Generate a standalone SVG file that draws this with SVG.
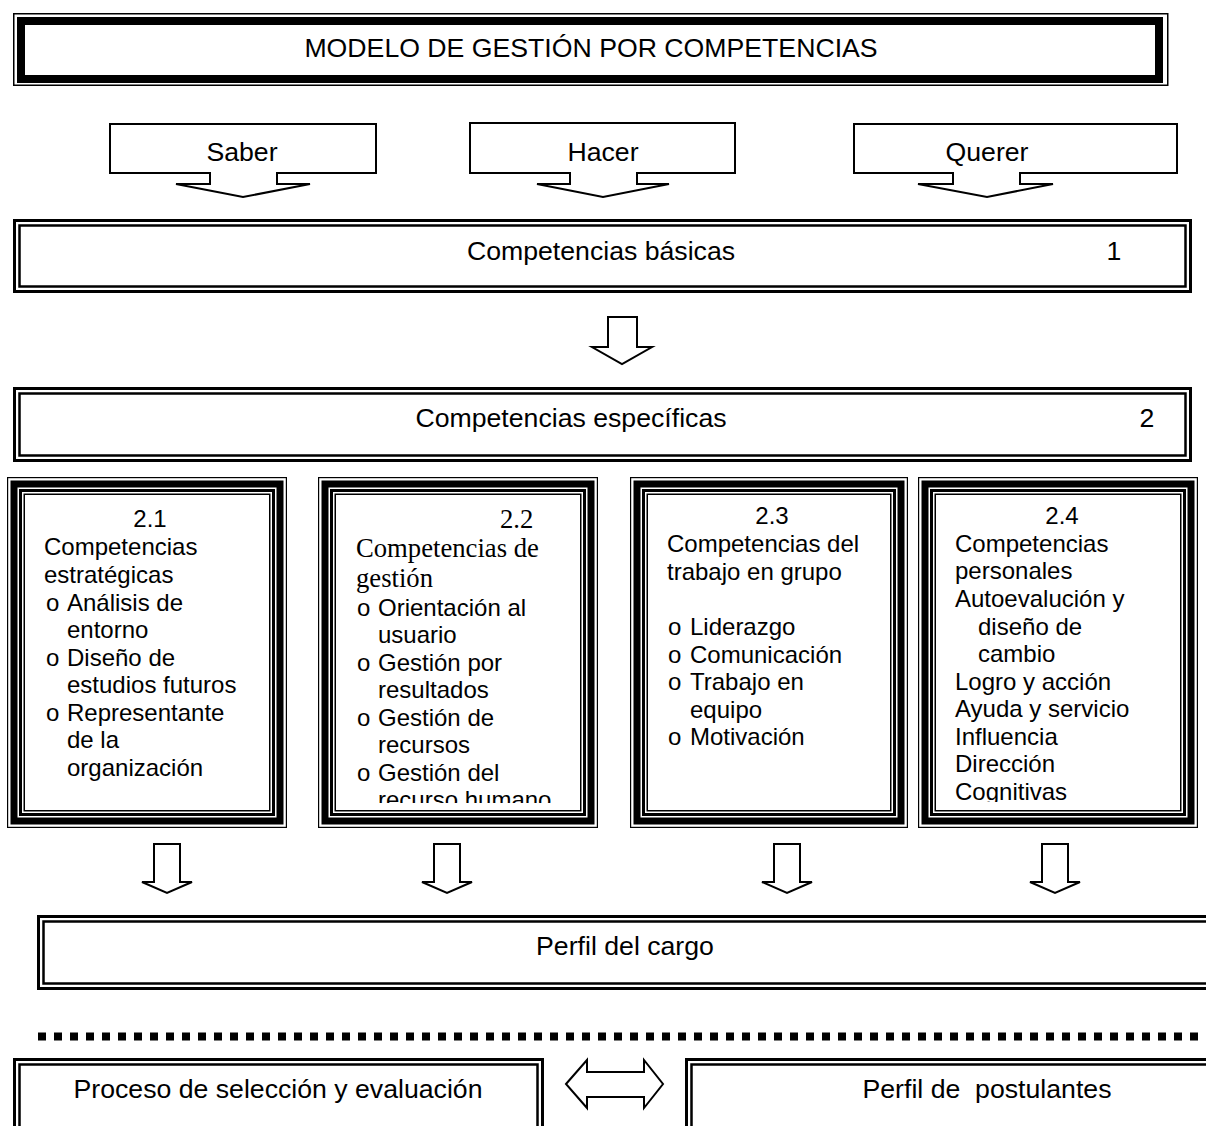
<svg xmlns="http://www.w3.org/2000/svg" width="1206" height="1126" viewBox="0 0 1206 1126">
<style>
.t{font-family:"Liberation Sans",Arial,sans-serif;font-size:26.67px;fill:#000}
.s{font-family:"Liberation Sans",Arial,sans-serif;font-size:24px;fill:#000}
.r{font-family:"Liberation Serif","Times New Roman",serif;font-size:26.67px;fill:#000}
.c{text-anchor:middle}
.f{fill:none;stroke:#000}
.sh{fill:#fff;stroke:#000;stroke-width:2;stroke-linejoin:miter}
</style>
<defs>
<clipPath id="clip22"><rect x="336" y="495" width="244" height="308"/></clipPath>
<clipPath id="clip24"><rect x="936" y="495" width="244" height="307"/></clipPath>
</defs>
<rect width="1206" height="1126" fill="#fff"/>

<g id="title">
<rect class="f" x="13.75" y="13.75" width="1154" height="71.5" stroke-width="1.5"/>
<rect class="f" x="21" y="21" width="1138" height="58" stroke-width="8"/>
<text class="t c" x="591" y="57">MODELO DE GESTIÓN POR COMPETENCIAS</text>
</g>

<g id="saber">
<path class="sh" d="M110,124 H376 V173 H277 V184 H310 L243,197 L176,184 H210 V173 H110 Z"/>
<text class="t c" x="242" y="161">Saber</text>
</g>
<g id="hacer">
<path class="sh" d="M470,123 H735 V173 H637 V184 H669 L603,197 L537,184 H570 V173 H470 Z"/>
<text class="t c" x="603" y="161">Hacer</text>
</g>
<g id="querer">
<path class="sh" d="M854,124 H1177 V173 H1020 V184 H1053 L987,197 L918,184 H953 V173 H854 Z"/>
<text class="t c" x="987" y="161">Querer</text>
</g>

<g id="basicas">
<rect class="f" x="14.5" y="220.5" width="1176" height="71" stroke-width="3"/>
<rect class="f" x="19.5" y="225.5" width="1166" height="61" stroke-width="2.5"/>
<text class="t c" x="601" y="260">Competencias básicas</text>
<text class="t c" x="1114" y="260">1</text>
</g>

<g id="especificas">
<rect class="f" x="14.5" y="388.5" width="1176" height="72" stroke-width="3"/>
<rect class="f" x="19.5" y="393.5" width="1166" height="62" stroke-width="2.5"/>
<text class="t c" x="571" y="427">Competencias específicas</text>
<text class="t c" x="1147" y="427">2</text>
</g>

<g id="box21">
<rect class="f" x="7.6" y="477.6" width="278.8" height="349.8" stroke-width="1.2"/>
<rect class="f" x="14" y="484" width="266" height="337" stroke-width="7"/>
<rect class="f" x="20.5" y="490.5" width="253" height="324" stroke-width="3"/>
<rect class="f" x="24.25" y="494.25" width="245.5" height="316.5" stroke-width="1.5"/>
<text class="s c" x="150" y="527">2.1</text>
<text class="s" x="44" y="555">Competencias</text>
<text class="s" x="44" y="583">estratégicas</text>
<text class="s" x="46" y="611">o</text><text class="s" x="67" y="611">Análisis de</text>
<text class="s" x="67" y="638">entorno</text>
<text class="s" x="46" y="666">o</text><text class="s" x="67" y="666">Diseño de</text>
<text class="s" x="67" y="693">estudios futuros</text>
<text class="s" x="46" y="721">o</text><text class="s" x="67" y="721">Representante</text>
<text class="s" x="67" y="748">de la</text>
<text class="s" x="67" y="776">organización</text>
</g>

<g id="box22">
<rect class="f" x="318.6" y="477.6" width="278.8" height="349.8" stroke-width="1.2"/>
<rect class="f" x="325" y="484" width="266" height="337" stroke-width="7"/>
<rect class="f" x="331.5" y="490.5" width="253" height="324" stroke-width="3"/>
<rect class="f" x="335.25" y="494.25" width="245.5" height="316.5" stroke-width="1.5"/>
<g clip-path="url(#clip22)">
<text class="r" x="500" y="528">2.2</text>
<text class="r" x="356" y="557">Competencias de</text>
<text class="r" x="356" y="587">gestión</text>
<text class="s" x="357" y="616">o</text><text class="s" x="378" y="616">Orientación al</text>
<text class="s" x="378" y="643">usuario</text>
<text class="s" x="357" y="671">o</text><text class="s" x="378" y="671">Gestión por</text>
<text class="s" x="378" y="698">resultados</text>
<text class="s" x="357" y="726">o</text><text class="s" x="378" y="726">Gestión de</text>
<text class="s" x="378" y="753">recursos</text>
<text class="s" x="357" y="781">o</text><text class="s" x="378" y="781">Gestión del</text>
<text class="s" x="378" y="808">recurso humano</text>
</g>
</g>

<g id="box23">
<rect class="f" x="630.6" y="477.6" width="276.8" height="349.8" stroke-width="1.2"/>
<rect class="f" x="637" y="484" width="264" height="337" stroke-width="7"/>
<rect class="f" x="643.5" y="490.5" width="251" height="324" stroke-width="3"/>
<rect class="f" x="647.25" y="494.25" width="243.5" height="316.5" stroke-width="1.5"/>
<text class="s c" x="772" y="524">2.3</text>
<text class="s" x="667" y="552">Competencias del</text>
<text class="s" x="667" y="580">trabajo en grupo</text>
<text class="s" x="668" y="635">o</text><text class="s" x="690" y="635">Liderazgo</text>
<text class="s" x="668" y="663">o</text><text class="s" x="690" y="663">Comunicación</text>
<text class="s" x="668" y="690">o</text><text class="s" x="690" y="690">Trabajo en</text>
<text class="s" x="690" y="718">equipo</text>
<text class="s" x="668" y="745">o</text><text class="s" x="690" y="745">Motivación</text>
</g>

<g id="box24">
<rect class="f" x="918.6" y="477.6" width="278.8" height="349.8" stroke-width="1.2"/>
<rect class="f" x="925" y="484" width="266" height="337" stroke-width="7"/>
<rect class="f" x="931.5" y="490.5" width="253" height="324" stroke-width="3"/>
<rect class="f" x="935.25" y="494.25" width="245.5" height="316.5" stroke-width="1.5"/>
<g clip-path="url(#clip24)">
<text class="s c" x="1062" y="524">2.4</text>
<text class="s" x="955" y="552">Competencias</text>
<text class="s" x="955" y="579">personales</text>
<text class="s" x="955" y="607">Autoevalución y</text>
<text class="s" x="978" y="635">diseño de</text>
<text class="s" x="978" y="662">cambio</text>
<text class="s" x="955" y="690">Logro y acción</text>
<text class="s" x="955" y="717">Ayuda y servicio</text>
<text class="s" x="955" y="745">Influencia</text>
<text class="s" x="955" y="772">Dirección</text>
<text class="s" x="955" y="800">Cognitivas</text>
</g>
</g>

<g id="perfil-cargo">
<rect class="f" x="38.5" y="916.5" width="1200" height="72" stroke-width="3"/>
<rect class="f" x="43.5" y="921.5" width="1190" height="62" stroke-width="2.5"/>
<text class="t c" x="625" y="955">Perfil del cargo</text>
</g>

<g id="proceso">
<rect class="f" x="14.5" y="1059.5" width="528" height="100" stroke-width="3"/>
<rect class="f" x="19.5" y="1064.5" width="518" height="90" stroke-width="2.5"/>
<text class="t c" x="278" y="1098">Proceso de selección y evaluación</text>
</g>

<g id="postulantes">
<rect class="f" x="686.5" y="1059.5" width="560" height="100" stroke-width="3"/>
<rect class="f" x="691.5" y="1064.5" width="550" height="90" stroke-width="2.5"/>
<text class="t c" x="987" y="1098" xml:space="preserve">Perfil de  postulantes</text>
</g>

<g id="connectors">
<path class="sh" d="M608,317 H637 V347 H652 L622,364 L592,347 H608 Z"/>
<path class="sh" d="M154,844 H180 V882 H192 L167,893 L142,882 H154 Z"/>
<path class="sh" d="M434,844 H460 V882 H472 L447,893 L422,882 H434 Z"/>
<path class="sh" d="M774,844 H800 V882 H812 L787,893 L762,882 H774 Z"/>
<path class="sh" d="M1042,844 H1068 V882 H1080 L1055,893 L1030,882 H1042 Z"/>
<line x1="38" y1="1036.5" x2="1206" y2="1036.5" stroke="#000" stroke-width="8" stroke-dasharray="8 8"/>
<path class="sh" d="M566,1084 L587,1060 V1072 H644 V1060 L663,1084 L644,1108 V1097 H587 V1108 Z"/>
</g>
</svg>
